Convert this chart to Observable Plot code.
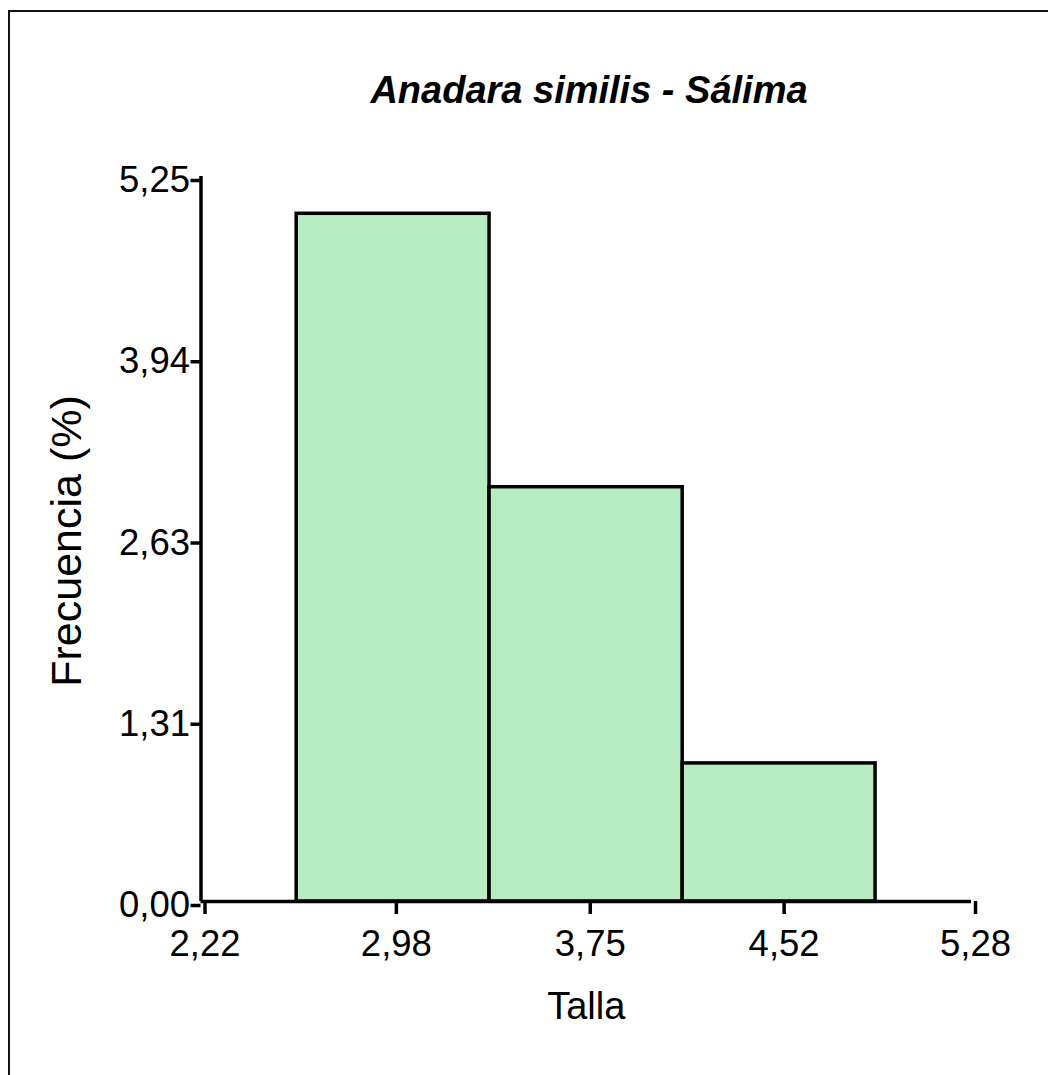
<!DOCTYPE html>
<html>
<head>
<meta charset="utf-8">
<script src="https://cdn.jsdelivr.net/npm/d3@7"></script>
<script src="https://cdn.jsdelivr.net/npm/@observablehq/plot@0.6"></script>
<style>
  body { margin: 0; background: #fff; }
  #wrap { position: relative; width: 1048px; height: 1075px; overflow: hidden; background: #fff;
          font-family: "Liberation Sans", Arial, sans-serif; }
  #frame { position: absolute; left: 8px; top: 10px; width: 1200px; height: 1200px;
           border-left: 2.5px solid #111; border-top: 2.5px solid #111; box-sizing: border-box; }
  #chart { position: absolute; left: 0; top: 0; }
  #title { position: absolute; left: 0; width: 1178px; top: 69px; text-align: center;
           font-weight: bold; font-style: italic; font-size: 38px; line-height: 42px; color: #000; }
</style>
</head>
<body>
<div id="wrap">
  <div id="frame"></div>
  <div id="chart"></div>
  <div id="title">Anadara similis - Sálima</div>
</div>
<script>
// Data
const binStart = [2.60, 3.366, 4.133];
const binEnd   = [3.366, 4.133, 4.899];
const frecuencia = [4.98, 3.00, 1.00];

const xTicks = [2.22, 2.98, 3.75, 4.52, 5.28];
const xTickLabels = ["2,22", "2,98", "3,75", "4,52", "5,28"];
const yTicks = [0, 1.3125, 2.625, 3.9375, 5.25];
const yTickLabels = ["0,00", "1,31", "2,63", "3,94", "5,25"];

const titleText = "Anadara similis - Sálima";
const xLabel = "Talla";
const yLabel = "Frecuencia (%)";

const bins = binStart.map((s, i) => ({x1: s, x2: binEnd[i], f: frecuencia[i]}));
const tickFont = "'Liberation Sans', Arial, sans-serif";

const chart = Plot.plot({
  width: 1048,
  height: 1075,
  marginLeft: 200.5,
  marginRight: 77,
  marginTop: 176,
  marginBottom: 174,
  style: {fontFamily: "'Liberation Sans', Arial, sans-serif", color: "#000", background: "transparent"},
  x: {domain: [2.22, 5.28]},
  y: {domain: [0, 5.25]},
  marks: [
    Plot.rect(bins, {x1: "x1", x2: "x2", y1: 0, y2: "f", fill: "#b8ebc0", stroke: "#000", strokeWidth: 3.5}),
    Plot.ruleY([0], {stroke: "#000", strokeWidth: 3.5}),
    Plot.ruleX([2.22], {stroke: "#000", strokeWidth: 3.5}),
    Plot.axisX(xTicks, {
      tickSize: 13, tickPadding: 16, strokeWidth: 3.5, fontSize: 36.5, dx: 4, fontFamily: tickFont,
      tickFormat: d => xTickLabels[xTicks.indexOf(d)], label: null
    }),
    Plot.axisY(yTicks, {
      tickSize: 10, tickPadding: 1, strokeWidth: 3.5, fontSize: 36.5, dy: 4, fontFamily: tickFont,
      tickFormat: d => yTickLabels[yTicks.indexOf(d)], label: null
    }),
    Plot.text([xLabel], {frameAnchor: "bottom", dy: 105, fontSize: 38, lineAnchor: "middle", textAnchor: "middle"}),
    Plot.text([yLabel], {frameAnchor: "left", dx: -134, dy: 2, rotate: -90, fontSize: 43, lineAnchor: "middle", textAnchor: "middle"})
  ]
});
document.getElementById("chart").appendChild(chart);
document.getElementById("title").textContent = titleText;
</script>
</body>
</html>
